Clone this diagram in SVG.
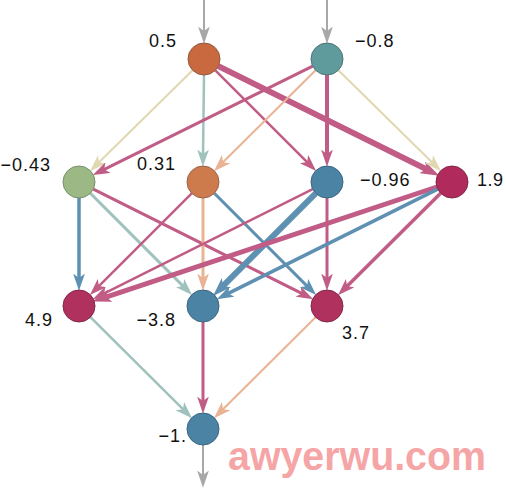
<svg xmlns="http://www.w3.org/2000/svg" width="506" height="488" viewBox="0 0 506 488">
<style>
.e{fill:none}
.pk{stroke:#c05c85}
.bl{stroke:#5e90b2}
.tl{stroke:#9fc2bc}
.pc{stroke:#e9b394}
.tn{stroke:#e0d8b0}
.gy{stroke:#a8a8a8}
.lbl{font-family:"Liberation Sans",Arial,sans-serif;font-size:18px;letter-spacing:1px;fill:#111}
.wm{font-family:"Liberation Sans",Arial,sans-serif;font-weight:bold;font-size:40px;fill:#f6a5a6}
</style>
<defs>
<marker id="mpk" viewBox="0 0 16 11" markerWidth="17" markerHeight="12" refX="6" refY="5.5" markerUnits="userSpaceOnUse" orient="auto"><path d="M0,0 L16,5.5 L0,11 L4,5.5 Z" fill="#c05c85"/></marker>
<marker id="mpkb" viewBox="0 0 16 11" markerWidth="19" markerHeight="13" refX="6" refY="5.5" markerUnits="userSpaceOnUse" orient="auto"><path d="M0,0 L16,5.5 L0,11 L4,5.5 Z" fill="#c05c85"/></marker>
<marker id="mbl" viewBox="0 0 16 11" markerWidth="17" markerHeight="12" refX="6" refY="5.5" markerUnits="userSpaceOnUse" orient="auto"><path d="M0,0 L16,5.5 L0,11 L4,5.5 Z" fill="#5e90b2"/></marker>
<marker id="mblb" viewBox="0 0 16 11" markerWidth="19" markerHeight="13" refX="6" refY="5.5" markerUnits="userSpaceOnUse" orient="auto"><path d="M0,0 L16,5.5 L0,11 L4,5.5 Z" fill="#5e90b2"/></marker>
<marker id="mtl" viewBox="0 0 16 11" markerWidth="17" markerHeight="12" refX="6" refY="5.5" markerUnits="userSpaceOnUse" orient="auto"><path d="M0,0 L16,5.5 L0,11 L4,5.5 Z" fill="#9fc2bc"/></marker>
<marker id="mpc" viewBox="0 0 16 11" markerWidth="17" markerHeight="12" refX="6" refY="5.5" markerUnits="userSpaceOnUse" orient="auto"><path d="M0,0 L16,5.5 L0,11 L4,5.5 Z" fill="#e9b394"/></marker>
<marker id="mtn" viewBox="0 0 16 11" markerWidth="17" markerHeight="12" refX="6" refY="5.5" markerUnits="userSpaceOnUse" orient="auto"><path d="M0,0 L16,5.5 L0,11 L4,5.5 Z" fill="#e0d8b0"/></marker>
<marker id="mgy" viewBox="0 0 16 11" markerWidth="17" markerHeight="12" refX="6" refY="5.5" markerUnits="userSpaceOnUse" orient="auto"><path d="M0,0 L16,5.5 L0,11 L4,5.5 Z" fill="#a8a8a8"/></marker>
</defs>
<g id="connectors">
<line class="e gy" stroke-width="2" x1="204" y1="0" x2="204" y2="33" marker-end="url(#mgy)"/>
<line class="e gy" stroke-width="2" x1="327" y1="0" x2="327" y2="33" marker-end="url(#mgy)"/>
<line class="e tn" stroke-width="2" x1="192.6" y1="70.2" x2="97.5" y2="163.8" marker-end="url(#mtn)"/>
<line class="e tl" stroke-width="2.5" x1="204" y1="75" x2="203" y2="156" marker-end="url(#mtl)"/>
<line class="e pk" stroke-width="2.5" x1="215.3" y1="70.3" x2="308.6" y2="163.6" marker-end="url(#mpk)"/>
<line class="e pk" stroke-width="6" x1="218.3" y1="66.1" x2="428.7" y2="170.4" marker-end="url(#mpkb)"/>
<line class="e pk" stroke-width="3" x1="312.7" y1="66.1" x2="102.3" y2="170.4" marker-end="url(#mpk)"/>
<line class="e pc" stroke-width="2" x1="315.6" y1="70.3" x2="221.5" y2="163.7" marker-end="url(#mpc)"/>
<line class="e pk" stroke-width="4" x1="327" y1="75" x2="327" y2="156" marker-end="url(#mpk)"/>
<line class="e tn" stroke-width="2" x1="338.4" y1="70.2" x2="433.5" y2="163.8" marker-end="url(#mtn)"/>
<line class="e bl" stroke-width="3.5" x1="79" y1="198" x2="79" y2="280" marker-end="url(#mbl)"/>
<line class="e tl" stroke-width="3" x1="90.3" y1="193.3" x2="184.6" y2="287.6" marker-end="url(#mtl)"/>
<line class="e pk" stroke-width="3" x1="93.3" y1="189.2" x2="303.7" y2="294.4" marker-end="url(#mpk)"/>
<line class="e pk" stroke-width="2.5" x1="191.7" y1="193.3" x2="97.4" y2="287.6" marker-end="url(#mpk)"/>
<line class="e pc" stroke-width="3" x1="203" y1="198" x2="203" y2="280" marker-end="url(#mpc)"/>
<line class="e bl" stroke-width="3" x1="214.3" y1="193.3" x2="308.6" y2="287.6" marker-end="url(#mbl)"/>
<line class="e pk" stroke-width="2.5" x1="312.7" y1="189.2" x2="102.3" y2="294.4" marker-end="url(#mpk)"/>
<line class="e bl" stroke-width="6" x1="315.7" y1="193.3" x2="221.4" y2="287.6" marker-end="url(#mblb)"/>
<line class="e pk" stroke-width="3" x1="327" y1="198" x2="327" y2="280" marker-end="url(#mpk)"/>
<line class="e pk" stroke-width="5" x1="436.8" y1="187" x2="103.7" y2="297.8" marker-end="url(#mpkb)"/>
<line class="e bl" stroke-width="3.5" x1="437.7" y1="189.1" x2="226.3" y2="294.4" marker-end="url(#mbl)"/>
<line class="e pk" stroke-width="3.5" x1="440.6" y1="193.3" x2="345.5" y2="287.7" marker-end="url(#mpk)"/>
<line class="e tl" stroke-width="2.5" x1="90.4" y1="317.2" x2="184.5" y2="410.7" marker-end="url(#mtl)"/>
<line class="e pk" stroke-width="3" x1="203" y1="322" x2="203" y2="403" marker-end="url(#mpk)"/>
<line class="e pc" stroke-width="2" x1="315.6" y1="317.2" x2="221.5" y2="410.7" marker-end="url(#mpc)"/>
<line class="e gy" stroke-width="2" x1="203" y1="445" x2="203" y2="477" marker-end="url(#mgy)"/>
</g>
<g id="n_a1"><circle cx="204" cy="59" r="16" fill="#c8693f" stroke="#8e5a40"/><text class="lbl" x="177" y="47" text-anchor="end">0.5</text></g>
<g id="n_a2"><circle cx="327" cy="59" r="16" fill="#5f9a9c" stroke="#4d7475"/><text class="lbl" x="355" y="47">−0.8</text></g>
<g id="n_b1"><circle cx="79" cy="182" r="16" fill="#9cb985" stroke="#788f6a"/><text class="lbl" x="51" y="171" text-anchor="end">−0.43</text></g>
<g id="n_b2"><circle cx="203" cy="182" r="16" fill="#cd7b4d" stroke="#97644b"/><text class="lbl" x="176" y="170" text-anchor="end">0.31</text></g>
<g id="n_b3"><circle cx="327" cy="182" r="16" fill="#4b83a5" stroke="#3d6580"/><text class="lbl" x="360" y="186">−0.96</text></g>
<g id="n_b4"><circle cx="452" cy="182" r="16" fill="#b02b5b" stroke="#7f2a4a"/><text class="lbl" x="477" y="186" style="letter-spacing:0.5px">1.9</text></g>
<g id="n_c1"><circle cx="79" cy="306" r="16" fill="#b0305e" stroke="#7f2a4a"/><text class="lbl" x="53" y="326" text-anchor="end">4.9</text></g>
<g id="n_c2"><circle cx="203" cy="306" r="16" fill="#4b83a5" stroke="#3d6580"/><text class="lbl" x="176" y="326" text-anchor="end">−3.8</text></g>
<g id="n_c3"><circle cx="327" cy="306" r="16" fill="#b0305e" stroke="#7f2a4a"/><text class="lbl" x="342" y="339">3.7</text></g>
<g id="n_d"><circle cx="203" cy="429" r="16" fill="#4b83a5" stroke="#3d6580"/><text class="lbl" x="187" y="442" text-anchor="end">−1.</text></g>
<text class="wm" x="228" y="470" textLength="258" lengthAdjust="spacingAndGlyphs">awyerwu.com</text>
</svg>
